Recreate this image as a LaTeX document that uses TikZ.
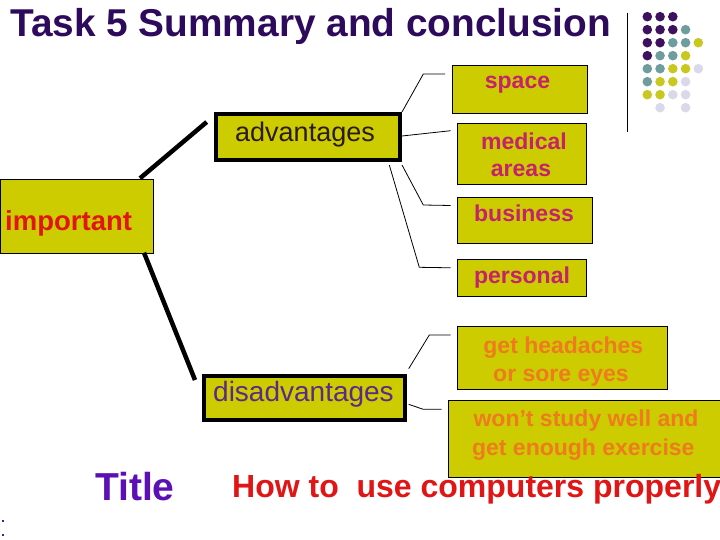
\documentclass[tikz,border=0pt]{standalone}
\usepackage{fontspec}
\setmainfont{Liberation Sans}
\usetikzlibrary{calc}
\definecolor{boxfill}{HTML}{CCCC00}
\definecolor{titlepurple}{HTML}{2D0A5C}
\definecolor{magtext}{HTML}{C4226B}
\definecolor{orgtext}{HTML}{EE7B1E}
\definecolor{redtext}{HTML}{E01515}
\definecolor{distext}{HTML}{5C2A86}
\definecolor{advtext}{HTML}{2B1B17}
\definecolor{smalltitle}{HTML}{5B0FB5}
\definecolor{dotP}{HTML}{3D1160}
\definecolor{dotT}{HTML}{6F9C9C}
\definecolor{dotY}{HTML}{C8C820}
\definecolor{dotL}{HTML}{D9D9EA}
\tikzset{
  box/.style={draw=black, line width=1pt, fill=boxfill, inner sep=0pt, anchor=north west},
  bigbox/.style={box, line width=4pt},
  lbl/.style={inner sep=0pt, anchor=base},
  lblw/.style={inner sep=0pt, anchor=base west},
  subtxt/.style={lbl, font=\fontsize{23}{26}\selectfont\bfseries},
  thickconn/.style={line width=4.5pt, black},
  thinconn/.style={line width=0.8pt, black}
}
\begin{document}
\begin{tikzpicture}[x=1pt,y=-1pt]
\useasboundingbox (0,0) rectangle (720,540);
\fill[white] (0,0) rectangle (720,540);

% title
\node[lblw, font=\fontsize{38.8}{40}\selectfont\bfseries, text=titlepurple] (title) at (10,36.7) {Task 5 Summary and conclusion};

% decoration
\draw[line width=1.2pt] (627.3,12.7) -- (627.3,131.7);
\foreach \r/\cols in {0/{1/P,2/P,3/P},
                      1/{1/P,2/P,3/P,4/T},
                      2/{1/P,2/P,3/T,4/T,5/Y},
                      3/{1/P,2/T,3/T,4/Y},
                      4/{1/T,2/T,3/Y,4/Y,5/L},
                      5/{1/T,2/Y,3/Y,4/L},
                      6/{1/Y,2/Y,3/L,4/L},
                      7/{2/L,4/L}} {
  \foreach \c/\k in \cols {
    \fill[dot\k] ({647.3+12.75*(\c-1)},{16.7+13.0*\r}) circle (4.8pt);
  }
}

% boxes
\node[box, minimum width=153pt, minimum height=74pt] (imp) at (0,179.3) {};
\node[bigbox, minimum width=184.3pt, minimum height=46pt] (adv) at (213.7,112) {};
\node[bigbox, minimum width=201pt, minimum height=44.3pt] (dis) at (202,373.7) {};
\node[box, minimum width=135pt, minimum height=48.3pt] (space) at (451.7,65) {};
\node[box, minimum width=129.3pt, minimum height=61.3pt] (med) at (456.7,122.7) {};
\node[box, minimum width=135.3pt, minimum height=46.6pt] (bus) at (456.7,196.7) {};
\node[box, minimum width=129.3pt, minimum height=37pt] (per) at (456.7,259) {};
\node[box, minimum width=210pt, minimum height=63.3pt] (head) at (456.7,326) {};
\node[box, minimum width=277.3pt, minimum height=76.7pt] (wont) at (447.7,400) {};

% labels
\node[lblw, font=\fontsize{27.5}{30}\selectfont\bfseries, text=redtext] (impt) at (5,230) {important};
\node[lblw, font=\fontsize{27}{30}\selectfont, text=advtext] (advt) at (235,141.7) {advantages};
\node[lblw, font=\fontsize{28}{30}\selectfont, text=distext] (dist) at (213,401.7) {disadvantages};
\node[subtxt, text=magtext] (spacet) at (517.5,88.3) {space};
\node[subtxt, text=magtext] (medt1) at (524,150) {medical};
\node[subtxt, text=magtext] (medt2) at (521,176.7) {areas};
\node[subtxt, text=magtext] (bust) at (524,221.7) {business};
\node[subtxt, text=magtext] (pert) at (522,283.3) {personal};
\node[subtxt, text=orgtext] (headt1) at (563.3,353.3) {get headaches};
\node[subtxt, text=orgtext] (headt2) at (561,381) {or sore eyes};
\node[subtxt, text=orgtext] (wontt1) at (586,426.7) {won’t study well and};
\node[subtxt, text=orgtext] (wontt2) at (583.3,455) {get enough exercise};

\node[lblw, font=\fontsize{39}{40}\selectfont\bfseries, text=smalltitle] (ttl) at (95,500) {Title};
\node[lblw, font=\fontsize{32}{34}\selectfont\bfseries, text=redtext] (howto) at (232,497) {How to\ \ use computers properly};

% small marks bottom left
\fill[smalltitle] (2.3,519.7) rectangle (4.3,521.7);
\fill[smalltitle] (2.3,534) rectangle (4.3,536);

% thick connectors
\draw[thickconn] ($(imp.north west)+(140,-1)$) -- ($(adv.north west)+(-7,10)$);
\draw[thickconn] ($(imp.south west)+(144,-1.6)$) -- ($(dis.north west)+(-7,6.3)$);

% thin connectors from advantages
\draw[thinconn] (adv.north east) -- (423.3,74) -- ($(space.north west)+(-6.7,9)$);
\draw[thinconn] ($(adv.east)+(0,-1)$) -- ($(med.north west)+(-6,8)$);
\draw[thinconn] ($(adv.south east)+(0,3)$) -- (423.3,205) -- ($(bus.west)+(-6,-15)$);
\draw[thinconn] ($(adv.south east)+(-12.7,3)$) -- (419.3,267.3) -- ($(per.west)+(-6,-10.2)$);

% thin connectors from disadvantages
\draw[thinconn] ($(dis.north east)+(1.7,-5)$) -- (429.3,335) -- ($(head.north west)+(-6,9)$);
\draw[thinconn] ($(dis.east)+(1.7,6.5)$) -- (423.3,409.3) -- ($(wont.north west)+(-6,9.3)$);
\end{tikzpicture}
\end{document}
